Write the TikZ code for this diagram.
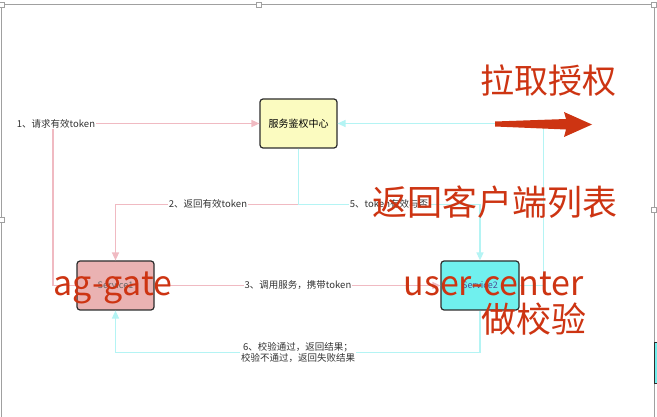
\documentclass[tikz,border=0pt]{standalone}
\usepackage{fontspec}
\setmainfont{Noto Sans CJK SC}
\usetikzlibrary{arrows.meta}
\definecolor{linkpink}{RGB}{240,186,194}
\definecolor{linkcyan}{RGB}{180,244,244}
\definecolor{authfill}{RGB}{251,251,192}
\definecolor{s1fill}{RGB}{234,178,178}
\definecolor{s2fill}{RGB}{112,240,238}
\definecolor{boxline}{RGB}{45,45,45}
\definecolor{annot}{RGB}{205,52,18}
\definecolor{framegray}{RGB}{160,160,160}
\tikzset{
  svcbox/.style={draw=boxline, line width=1.2pt, rounded corners=3pt, minimum width=77pt, minimum height=49pt, inner sep=0pt, font=\fontsize{10}{12}\selectfont},
  pinkline/.style={draw=linkpink, line width=1.4pt},
  cyanline/.style={draw=linkcyan, line width=1.4pt},
  tipped/.style={-{Triangle[length=8pt,width=7pt]}},
  lbl/.style={fill=white, inner sep=1pt, text=black!80, font=\fontsize{9.5}{11.5}\selectfont, align=center},
  redtext/.style={text=annot, inner sep=0pt, font=\fontsize{34}{36}\selectfont},
  handle/.style={draw=framegray, fill=white, line width=0.6pt, minimum size=5pt, inner sep=0pt, rectangle}
}
\begin{document}
\begin{tikzpicture}[x=1pt,y=-1pt]
\useasboundingbox (0,0) rectangle (657,417);
\fill[white] (0,0) rectangle (657,417);
% selection frame of the screenshot
\draw[framegray, line width=1pt] (0,5) -- (657,5);
\draw[framegray, line width=0.8pt] (1.5,5) -- (1.5,417);
\draw[framegray, line width=0.8pt] (654,5) -- (654,417);
\fill[s2fill] (654.5,342) rectangle (657,383);
\draw[boxline, line width=0.6pt] (657,342) -- (654.5,342) -- (654.5,383) -- (657,383);
\node[handle] (h1) at (2,5) {};
\node[handle] (h2) at (259,5) {};
\node[handle] (h3) at (654,5) {};
\node[handle] (h4) at (1.5,220) {};
\node[handle] (h5) at (654,210) {};

% boxes
\node[svcbox, fill=authfill] (auth) at (298.5,123.5) {服务鉴权中心};
\node[svcbox, fill=s1fill, text=black!60, font=\fontsize{9}{11}\selectfont] (s1) at (115.5,285.5) {Service1};
\node[svcbox, fill=s2fill, minimum width=78pt, text=blue!40!black!70, font=\fontsize{9}{11}\selectfont] (s2) at (480,285.5) {Service2};

% connectors
\draw[pinkline, tipped] (s1.west) -- (53,285.5) -- (53,123.5) -- (auth.west);
\draw[pinkline, tipped] (auth.south) -- ++(0,56) -| (s1.north);
\draw[cyanline, tipped] (auth.south) -- ++(0,56) -| (s2.north);
\draw[pinkline, tipped] (s1.east) -- (s2.west);
\draw[cyanline, tipped] (s2.east) -- ++(24,0) |- (auth.east);
\draw[cyanline, tipped] (s2.south) -- ++(0,42) -| (s1.south);

% labels
\node[lbl] (l1) at (56,123.5) {1、请求有效token};
\node[lbl] (l2) at (208,204) {2、返回有效token};
\node[lbl] (l3) at (298,285.5) {3、调用服务，携带token};
\node[lbl] (l5) at (389,204) {5、token有效与否};
\node[lbl] (l6) at (298,352.5) {6、校验通过，返回结果；\\校验不通过，返回失败结果};

% red annotations
\node[redtext] (t1) at (548,81) {拉取授权};
\fill[annot] (495,121.5) -- (566,119) -- (564,112) -- (592,124.5) -- (564,137) -- (566,129.5) -- (495,126.5) -- cycle;
\node[redtext, font=\fontsize{35}{37}\selectfont] (t2) at (494.5,202) {返回客户端列表};
\node[redtext, anchor=base] (t3) at (113,295) {ag-gate};
\node[redtext, anchor=base] (t4) at (493.5,295) {user-center};
\node[redtext, font=\fontsize{35}{37}\selectfont] (t5) at (534,319) {做校验};
\end{tikzpicture}
\end{document}
